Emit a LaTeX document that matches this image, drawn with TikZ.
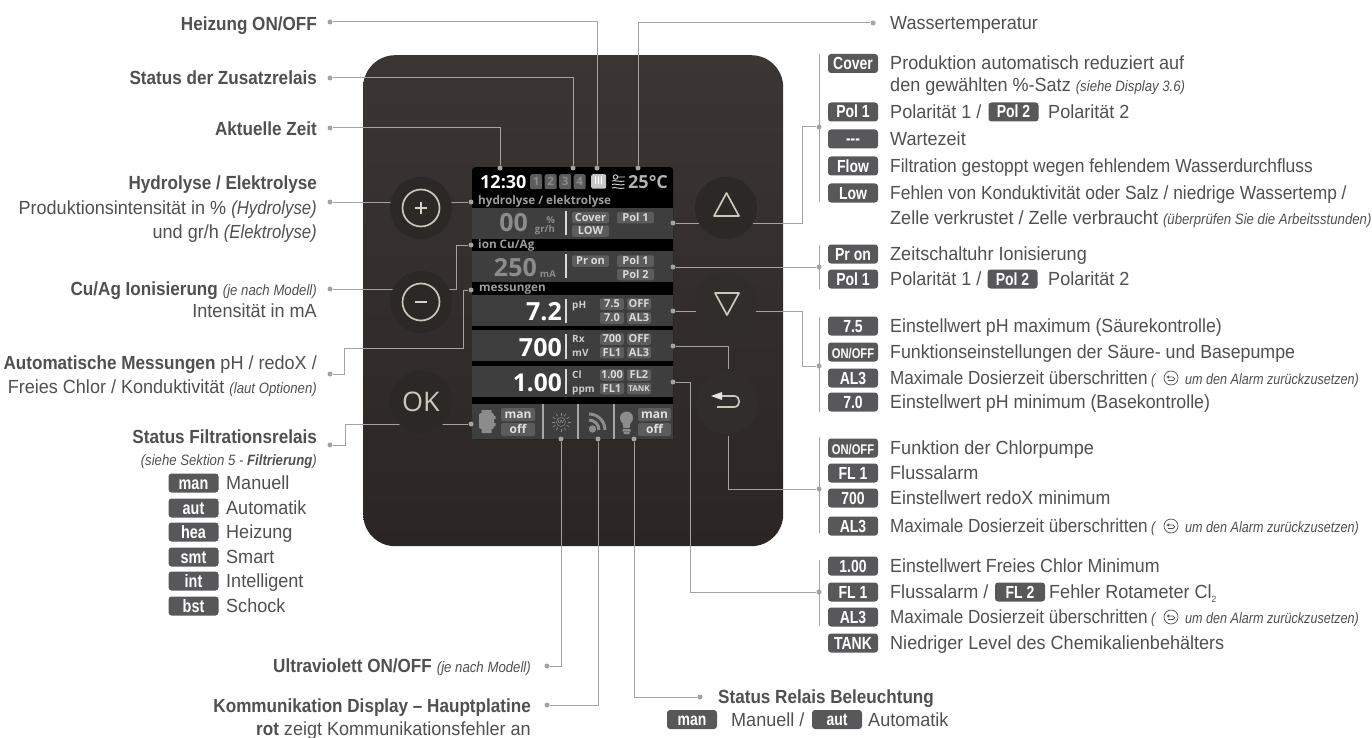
\documentclass[tikz,border=0pt]{standalone}
\usepackage{fontspec}
\setmainfont{Liberation Sans}[FakeStretch=0.95,BoldFeatures={FakeStretch=0.9},ItalicFeatures={FakeStretch=0.88},BoldItalicFeatures={FakeStretch=0.88}]
\newfontfamily\scrf{Open Sans}
\newfontfamily\chipf{Liberation Sans Bold}[FakeStretch=0.8]
\newfontfamily\nara{Liberation Sans}[FakeStretch=0.9]
\newfontfamily\narb{Liberation Sans}[FakeStretch=0.915]
\newfontfamily\narc{Liberation Sans}[FakeStretch=0.935]
\newfontfamily\nari{Liberation Sans Italic}[FakeStretch=0.84]
\definecolor{txt}{HTML}{505050}
\definecolor{chipc}{HTML}{58585A}
\definecolor{linec}{HTML}{A3A3A3}
\definecolor{rowc}{HTML}{3E3E3E}
\definecolor{schipc}{HTML}{5C5C5C}
\definecolor{glyphc}{HTML}{CCC7BA}
\definecolor{iconc}{HTML}{8C8C8C}
\definecolor{ptop}{HTML}{3B3633}
\definecolor{pbot}{HTML}{2B2623}
\definecolor{btna}{HTML}{2C2826}
\definecolor{btnb}{HTML}{312D2B}
\tikzset{
  conn/.style={draw=linec,line width=1pt},
  pt/.style={circle,fill=linec,inner sep=0,minimum size=5pt},
  lbl/.style={font=\fontsize{19}{19}\selectfont,text=txt,inner sep=0,text height=15pt,text depth=2pt},
  lr/.style={lbl,anchor=east},
  ll/.style={lbl,anchor=west},
  chip/.style={fill=chipc,rounded corners=3pt,inner sep=0,minimum width=50pt,minimum height=19pt,text=white,font=\chipf\fontsize{17.5}{17.5}\selectfont,text height=12pt,text depth=0pt},
  st/.style={font={\scrf\bfseries\fontsize{#1}{#1}\selectfont},text height=0.714*#1,text depth=0,inner sep=0},
  sc/.style={st=11,fill=schipc,rounded corners=2pt,text=white!85!black,text height=7.8pt,minimum height=11.5pt},
  btn/.style={circle,fill=#1,inner sep=0,minimum size=62pt},
  gl/.style={draw=glyphc,line width=1.7pt},
  bar/.style={draw=white!85!black,line width=1.3pt},
  backi/.style={circle,draw=txt,line width=.7pt,inner sep=0,minimum size=14pt},
  it/.style={lbl,font=\nari\fontsize{15}{15}\selectfont,text=txt,anchor=west}
}
\newcommand{\Lab}[4]{\node[chip] (#1) at (#2,#3) {#4};}
\newcommand{\Row}[4]{\node[chip] (#1c) at (853,#2) {#3}; \node[ll] (#1t) at (890,#2) {#4};}
\newcommand{\Alarm}[2]{%
  \node[chip] (#1c) at (853,#2) {AL3};
  \node[ll] (#1t) at (890,#2) {\nara Maximale Dosierzeit überschritten};
  \node[it] (#1p) at (1151,#2) {(};
  \node[backi] (#1i) at (1171,#2) {};
  \begin{scope}[shift={(#1i.center)}]
  \draw[txt,line width=.7pt] (-3,-1) -- (2,-1) .. controls (4.5,-1) and (4.5,2.5) .. (2,2.5) -- (-3,2.5);
  \fill[txt] (-4.5,-1) -- (-2,-2.6) -- (-2,.6) -- cycle;
  \end{scope}
  \node[it] (#1u) at (1185,#2) {um den Alarm zurückzusetzen)};}
\newcommand{\Chp}[6]{\node[sc,minimum width=#4pt,#6] (#1) at (#2,#3) {#5};}
\begin{document}
\begin{tikzpicture}[x=1pt,y=-1pt]
\useasboundingbox (0,0) rectangle (1372,738);
\fill[white] (0,0) rectangle (1372,738);
% panel
\node[rounded corners=32pt,inner sep=0,minimum width=420pt,minimum height=491pt,anchor=north west,top color=ptop,bottom color=pbot] (panel) at (363,55) {};
% screen
\node[fill=black,rounded corners=3pt,inner sep=0,minimum width=201pt,minimum height=272pt,anchor=north west] (screen) at (472,167) {};
\foreach \a/\b in {208/239,251/282,295/326,330/361,366/397,404/439}
  \fill[rowc] (472,\a) rectangle (673,\b);
% screen header
\node[st=18,text=white,anchor=west] (clock) at (480,182) {12:30};
\foreach \n/\x in {1/530,2/544.5,3/559,4/573.5}
  \node[st=11.5,fill=schipc,rounded corners=2pt,text=iconc,minimum width=12pt,minimum height=15pt,text height=8pt,anchor=north west] (rel\n) at (\x,174) {\n};
\node[fill=white!78!black,rounded corners=2pt,minimum width=15pt,minimum height=14.5pt,inner sep=0,anchor=north west] (heat) at (591,174) {};
\foreach \x in {595.5,598.5,601.5}
  \draw[white,line width=.8pt] (\x,176.5) .. controls (\x+1.5,179) and (\x-1.5,181) .. (\x,184);
\draw[white!85!black,line width=.9pt] (615.5,177) circle (2.2) (617.7,177) -- (625,177) (612,181) .. controls (615,179.5) and (619,182.5) .. (624.5,181)
 (612,184.5) .. controls (615,183) and (619,186) .. (624.5,184.5) (612,188) .. controls (615,186.5) and (619,189.5) .. (624.5,188);
\node[st=18,text=white!70!black,anchor=west] (temp) at (628,182) {25°C};
\node[st=11.7,text=white!62!black,anchor=west] (shyd) at (478,200) {hydrolyse / elektrolyse};
% row 1
\node[st=25,text=iconc,anchor=east] (v00) at (528,223) {00};
\node[st=9.5,text=iconc,anchor=east] (vpc) at (555,220) {\%};
\node[st=9.5,text=iconc,anchor=east] (vgr) at (555,229) {gr/h};
\draw[bar] (566,211) -- (566,235);
\Chp{cCov}{590.5}{217.7}{37}{Cover}{}
\Chp{cLow}{590.5}{231}{37}{LOW}{}
\Chp{cP1}{635.5}{217.7}{37}{Pol 1}{}
% row 2
\node[st=11.7,text=white!62!black,anchor=west] (sion) at (478,244) {ion Cu/Ag};
\node[st=25,text=iconc,anchor=east] (v250) at (537,268) {250};
\node[st=9.5,text=iconc,anchor=east] (vma) at (556,274) {mA};
\draw[bar] (566,254) -- (566,278);
\Chp{cPr}{590.5}{261}{37}{Pr on}{}
\Chp{cP1b}{635.5}{261}{37}{Pol 1}{}
\Chp{cP2b}{635.5}{274.5}{37}{Pol 2}{}
% measurements
\node[st=11.7,text=white!62!black,anchor=west] (smes) at (479,287) {messungen};
\node[st=25,text=white,anchor=east] (v72) at (562,312) {7.2};
\draw[bar] (566,299) -- (566,323);
\node[st=10,text=white!80!black,anchor=west] (tph) at (572,305) {pH};
\Chp{a1}{612}{304}{24}{7.5}{}
\Chp{a2}{639}{304}{24}{OFF}{}
\Chp{a3}{612}{318}{24}{7.0}{}
\Chp{a4}{639}{318}{24}{AL3}{}
\node[st=25,text=white,anchor=east] (v700) at (562,348) {700};
\draw[bar] (566,334) -- (566,359);
\node[st=10,text=white!80!black,anchor=west] (trx) at (572,339) {Rx};
\node[st=10,text=white!80!black,anchor=west] (tmv) at (572,353) {mV};
\Chp{b1}{612}{339}{24}{700}{}
\Chp{b2}{639}{339}{24}{OFF}{}
\Chp{b3}{612}{352.5}{24}{FL1}{}
\Chp{b4}{639}{352.5}{24}{AL3}{}
\node[st=24.5,text=white,anchor=east] (v100) at (562,383) {1.00};
\draw[bar] (566,369) -- (566,394);
\node[st=10,text=white!80!black,anchor=west] (tcl) at (572,375) {Cl};
\node[st=10,text=white!80!black,anchor=west] (tpp) at (572,389) {ppm};
\Chp{e1}{612}{375}{24}{1.00}{}
\Chp{e2}{639}{375}{24}{FL2}{}
\Chp{e3}{612}{388.5}{24}{FL1}{}
\Chp{e4}{639}{388.5}{24}{TANK}{font={\scrf\bfseries\fontsize{8}{8}\selectfont},text height=5.7pt}
% bottom row
\foreach \x in {543,578,614} \draw[white!65!black,line width=1.2pt] (\x,404) -- (\x,439);
\fill[iconc,rounded corners=2pt] (479,413) rectangle (494,429);
\fill[iconc] (481.5,410) rectangle (491.5,413) (481.5,429) rectangle (491.5,433);
\fill[iconc] (494,416) rectangle (495.5,419) (494,423) rectangle (495.5,426);
\Chp{m1}{518}{414.5}{34}{man}{st=12,text height=8pt,minimum height=13pt,fill=schipc,text=white!88!black}
\Chp{m2}{518}{429.5}{34}{off}{st=12,text height=8pt,minimum height=13pt,fill=schipc,text=white!88!black}
\node[circle,draw=iconc,line width=.5pt,minimum size=9pt,inner sep=0] (uv) at (561,422) {};
\node[font=\scrf\bfseries\fontsize{4.5}{4.5}\selectfont,text=iconc,inner sep=0] (uvt) at (561,422) {UV};
\foreach \a in {0,30,...,330}
  \draw[iconc,line width=.7pt] (561,422)+(\a:6.5) -- +(\a:9.5);
\fill[iconc] (592.5,429) circle (3.7);
\draw[iconc,line width=3pt] (589,420) arc[start angle=-90,end angle=0,radius=10];
\draw[iconc,line width=3pt] (589,414) arc[start angle=-90,end angle=0,radius=16];
\fill[iconc] (626.5,418) circle (6.5);
\fill[iconc] (622,421) -- (631,421) -- (629.5,428) -- (623.5,428) -- cycle;
\fill[iconc] (622.5,429) rectangle (630.5,431.5) (623.5,432) rectangle (629.5,434);
\Chp{m3}{654.5}{414.5}{33}{man}{st=12,text height=8pt,minimum height=13pt,fill=schipc,text=white!88!black}
\Chp{m4}{654.5}{429.5}{33}{off}{st=12,text height=8pt,minimum height=13pt,fill=schipc,text=white!88!black}
% dots
\foreach \n/\x/\y in {hA/330/22,hB/597/168,zA/330/78,zB/573/168,tA/330/128,tB/500/168,wA/873/23,wB/638/168,
  yA/330/202,yB/471/202,cA/330/289,cB/471/245,aA/330/374,aB/471/290,fA/330/445,fB/471/424,
  uA/547/666,uB/561/439,kA/547/705,kB/598/439,lA/700/697,lB/634/439,
  rA/673/223,rB/819/127,iA/673/267,iB/819/267,pA/673/311,pB/819/366,xA/673/346,bB/819/489,clA/673/382,clB/819/592}
  \node[pt] (\n) at (\x,\y) {};
\coordinate (cJ) at (456,289);
\coordinate (aJ1) at (344,374);
\coordinate (aJ2) at (463,348);
\coordinate (fJ) at (345,445);
\coordinate (rJ) at (802,223);
\coordinate (pJ) at (802,311);
\coordinate (xE) at (728,369);
\coordinate (bS) at (728,436);
\coordinate (clJ) at (690,382);
\foreach \n/\a/\b in {br1/54/202,br2/245/289,br3/317/412,br4/437/533,br5/560/626} {
  \coordinate (\n t) at (819,\a); \coordinate (\n b) at (819,\b);
  \draw[conn] (\n t) -- (\n b);}
% connectors
\draw[conn] (hA) -| (hB);
\draw[conn] (zA) -| (zB);
\draw[conn] (tA) -| (tB);
\draw[conn] (wA) -| (wB);
\draw[conn] (yA) -- (yB);
\draw[conn] (cA) -- (cJ) |- (cB);
\draw[conn] (aA) -- (aJ1) |- (aJ2) |- (aB);
\draw[conn] (fA) -- (fJ) |- (fB);
\draw[conn] (uA) -| (uB);
\draw[conn] (kA) -| (kB);
\draw[conn] (lA) -| (lB);
\draw[conn] (rA) -- (rJ) |- (rB);
\draw[conn] (iA) -- (iB);
\draw[conn] (pA) -- (pJ) |- (pB);
\draw[conn] (xA) -| (xE);
\draw[conn] (bS) |- (bB);
\draw[conn] (clA) -- (clJ) |- (clB);
% buttons
\node[btn=btna] (bPlus) at (421,208) {};
\node[btn=btna] (bMinus) at (421,302) {};
\node[btn=btna] (bOK) at (421,402) {};
\node[btn=btna] (bUp) at (726,208) {};
\node[btn=btnb] (bDown) at (726,303) {};
\node[btn=btnb] (bBack) at (727,403) {};
\draw[gl] (421,208) circle (18.5);
\draw[glyphc!80!white,line width=2.4pt] (415,208) -- (427,208) (421,202) -- (421,214);
\draw[gl] (421,302) circle (18.5);
\draw[glyphc!80!white,line width=2.4pt] (415,302) -- (427,302);
\node[font=\scrf\fontsize{27}{27}\selectfont,text=glyphc,inner sep=0] (okt) at (421,402) {OK};
\draw[gl,line join=round] (714,216) -- (739,216) -- (726.5,193) -- cycle;
\draw[gl,line join=round] (715,293) -- (739,293) -- (727,315) -- cycle;
\draw[gl] (721,396) -- (734,396) .. controls (741,396) and (741,407) .. (734,407) -- (717,407);
\fill[white!90!black] (711,396) -- (722,392) -- (722,400) -- cycle;
% left labels
\node[lr] (l1) at (317,24) {\textbf{Heizung ON/OFF}};
\node[lr] (l2) at (317,78) {\textbf{Status der Zusatzrelais}};
\node[lr] (l3) at (317,129) {\textbf{Aktuelle Zeit}};
\node[lr] (l4) at (317,183) {\textbf{Hydrolyse / Elektrolyse}};
\node[lr] (l5) at (317,208) {Produktionsintensität in \% \textit{(Hydrolyse)}};
\node[lr] (l6) at (317,232) {und gr/h \textit{(Elektrolyse)}};
\node[lr] (l7) at (317,289) {\textbf{Cu/Ag Ionisierung} \textit{\fontsize{15}{15}\selectfont (je nach Modell)}};
\node[lr] (l8) at (317,311) {Intensität in mA};
\node[lr] (l9) at (317,363) {\textbf{Automatische Messungen} pH / redoX /};
\node[lr] (l10) at (317,387) {Freies Chlor / Konduktivität \textit{\fontsize{15}{15}\selectfont (laut Optionen)}};
\node[lr] (l11) at (317,437) {\textbf{Status Filtrationsrelais}};
\node[lr,font=\fontsize{15}{15}\selectfont\itshape] (l12) at (317,459) {(siehe Sektion 5 - \textbf{Filtrierung})};
\foreach \n/\t/\d/\y in {man/man/Manuell/483,aut/aut/Automatik/508,hea/hea/Heizung/532,smt/smt/Smart/557,int/int/Intelligent/581,bst/bst/Schock/606} {
  \node[chip,font=\chipf\fontsize{18}{18}\selectfont] (s\n) at (193.5,\y) {\t};
  \node[ll] (d\n) at (226,\y) {\d};}
\node[lr] (l13) at (531,666) {\textbf{Ultraviolett ON/OFF} \textit{\fontsize{15}{15}\selectfont (je nach Modell)}};
\node[lr] (l14) at (531,706) {\textbf{Kommunikation Display – Hauptplatine}};
\node[lr] (l15) at (531,729) {\textbf{rot} zeigt Kommunikationsfehler an};
% bottom centre
\node[ll] (l16) at (718,697) {\textbf{Status Relais Beleuchtung}};
\node[chip] (kman) at (692,719.5) {man};
\node[ll] (l17) at (731,719.5) {Manuell /};
\node[chip] (kaut) at (837,719.5) {aut};
\node[ll] (l18) at (868,719.5) {Automatik};
% right labels
\node[ll] (wT) at (890,23) {Wassertemperatur};
\Lab{r1c}{853}{63.5}{Cover}
\node[ll] (r1t) at (890,63) {Produktion automatisch reduziert auf};
\node[ll] (r1u) at (890,85) {den gewählten \%-Satz \textit{\fontsize{15}{15}\selectfont (siehe Display 3.6)}};
\Row{r2}{112}{Pol 1}{Polarität 1 /}
\Lab{r2d}{1013.5}{112}{Pol 2}
\node[ll] (r2e) at (1048,112) {Polarität 2};
\Row{r3}{139}{---}{Wartezeit}
\Row{r4}{166}{Flow}{\narb Filtration gestoppt wegen fehlendem Wasserdurchfluss}
\Row{r5}{193}{Low}{\narb Fehlen von Konduktivität oder Salz / niedrige Wassertemp /}
\node[ll] (r5u) at (890,218) {Zelle verkrustet / Zelle verbraucht \textit{\fontsize{15}{15}\selectfont (überprüfen Sie die Arbeitsstunden)}};
\Row{r6}{254}{Pr on}{Zeitschaltuhr Ionisierung}
\Row{r7}{279}{Pol 1}{Polarität 1 /}
\Lab{r7d}{1012.5}{279}{Pol 2}
\node[ll] (r7e) at (1048,279) {Polarität 2};
\Row{r8}{326}{7.5}{\narc Einstellwert pH maximum (Säurekontrolle)}
\Row{r9}{352}{\fontsize{14}{14}\selectfont ON/OFF}{\narc Funktionseinstellungen der Säure- und Basepumpe}
\Alarm{r10}{378}
\Row{r11}{402}{7.0}{\narc Einstellwert pH minimum (Basekontrolle)}
\Row{r12}{448}{\fontsize{14}{14}\selectfont ON/OFF}{Funktion der Chlorpumpe}
\Row{r13}{473}{FL 1}{Flussalarm}
\Row{r14}{498}{700}{\narc Einstellwert redoX minimum}
\Alarm{r15}{526}
\Row{r16}{566}{1.00}{\narc Einstellwert Freies Chlor Minimum}
\Row{r17}{592}{FL 1}{Flussalarm /}
\Lab{r17d}{1020}{592}{FL 2}
\node[ll] (r17e) at (1049,592) {Fehler Rotameter Cl\raisebox{-4pt}{\fontsize{9}{9}\selectfont 2}};
\Alarm{r18}{617}
\Row{r19}{643}{TANK}{Niedriger Level des Chemikalienbehälters}
\end{tikzpicture}
\end{document}
